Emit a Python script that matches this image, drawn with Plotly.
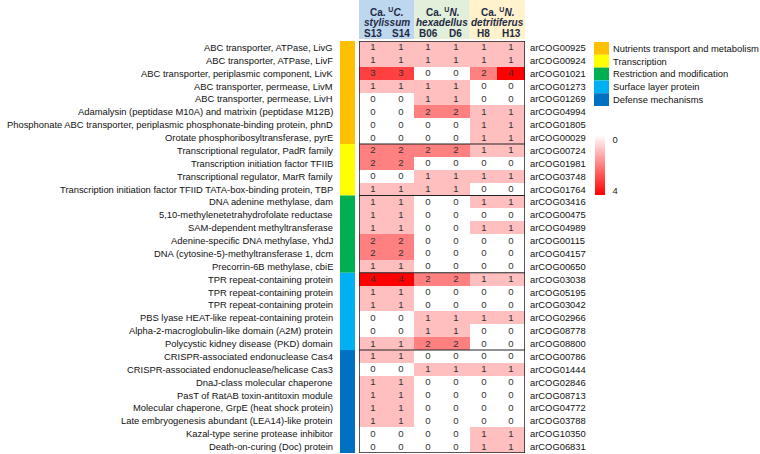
import plotly.graph_objects as go

W, H = 760, 454

genomes = ["S13", "S14", "B06", "D6", "H8", "H13"]
species_line1 = ["Ca. <sup>U</sup><i>C.</i>", "Ca. <sup>U</sup><i>N.</i>", "Ca. <sup>U</sup><i>N.</i>"]
species_line2 = ["stylissum", "hexadellus", "detritiferus"]
species_colors = ["#BDD7EE", "#E2EFDA", "#FFF2CC"]

functions = [
    "ABC transporter, ATPase, LivG",
    "ABC transporter, ATPase, LivF",
    "ABC transporter, periplasmic component, LivK",
    "ABC transporter, permease, LivM",
    "ABC transporter, permease, LivH",
    "Adamalysin (peptidase M10A) and matrixin (peptidase M12B)",
    "Phosphonate ABC transporter, periplasmic phosphonate-binding protein, phnD",
    "Orotate phosphoribosyltransferase, pyrE",
    "Transcriptional regulator, PadR family",
    "Transcription initiation factor TFIIB",
    "Transcriptional regulator, MarR family",
    "Transcription initiation factor TFIID TATA-box-binding protein, TBP",
    "DNA adenine methylase, dam",
    "5,10-methylenetetrahydrofolate reductase",
    "SAM-dependent methyltransferase",
    "Adenine-specific DNA methylase, YhdJ",
    "DNA (cytosine-5)-methyltransferase 1, dcm",
    "Precorrin-6B methylase, cbiE",
    "TPR repeat-containing protein",
    "TPR repeat-containing protein",
    "TPR repeat-containing protein",
    "PBS lyase HEAT-like repeat-containing protein",
    "Alpha-2-macroglobulin-like domain (A2M) protein",
    "Polycystic kidney disease (PKD) domain",
    "CRISPR-associated endonuclease Cas4",
    "CRISPR-associated endonuclease/helicase Cas3",
    "DnaJ-class molecular chaperone",
    "PasT of RatAB toxin-antitoxin module",
    "Molecular chaperone, GrpE (heat shock protein)",
    "Late embryogenesis abundant (LEA14)-like protein",
    "Kazal-type serine protease inhibitor",
    "Death-on-curing (Doc) protein",
]

arcogs = [
    "arCOG00925", "arCOG00924", "arCOG01021", "arCOG01273", "arCOG01269",
    "arCOG04994", "arCOG01805", "arCOG00029", "arCOG00724", "arCOG01981",
    "arCOG03748", "arCOG01764", "arCOG03416", "arCOG00475", "arCOG04989",
    "arCOG00115", "arCOG04157", "arCOG00650", "arCOG03038", "arCOG05195",
    "arCOG03042", "arCOG02966", "arCOG08778", "arCOG08800", "arCOG00786",
    "arCOG01444", "arCOG02846", "arCOG08713", "arCOG04772", "arCOG03788",
    "arCOG10350", "arCOG06831",
]

counts = [
    [1, 1, 1, 1, 1, 1],
    [1, 1, 1, 1, 1, 1],
    [3, 3, 0, 0, 2, 4],
    [1, 1, 1, 1, 0, 0],
    [0, 0, 1, 1, 0, 0],
    [0, 0, 2, 2, 1, 1],
    [0, 0, 0, 0, 1, 1],
    [0, 0, 0, 0, 1, 1],
    [2, 2, 2, 2, 1, 1],
    [2, 2, 0, 0, 0, 0],
    [0, 0, 1, 1, 1, 1],
    [1, 1, 1, 1, 0, 0],
    [1, 1, 0, 0, 1, 1],
    [1, 1, 0, 0, 0, 0],
    [1, 1, 0, 0, 1, 1],
    [2, 2, 0, 0, 0, 0],
    [2, 2, 0, 0, 0, 0],
    [1, 1, 0, 0, 0, 0],
    [4, 4, 2, 2, 1, 1],
    [1, 1, 0, 0, 0, 0],
    [1, 1, 0, 0, 0, 0],
    [0, 0, 1, 1, 1, 1],
    [0, 0, 1, 1, 0, 0],
    [1, 1, 2, 2, 0, 0],
    [1, 1, 0, 0, 0, 0],
    [0, 0, 1, 1, 1, 1],
    [1, 1, 0, 0, 0, 0],
    [1, 1, 0, 0, 0, 0],
    [1, 1, 0, 0, 0, 0],
    [1, 1, 0, 0, 0, 0],
    [0, 0, 0, 0, 1, 1],
    [0, 0, 0, 0, 1, 1],
]

categories = ["Nutrients transport and metabolism", "Transcription",
              "Restriction and modification", "Surface layer protein",
              "Defense mechanisms"]
category_sizes = [8, 4, 6, 6, 8]
category_colors = ["#FFC000", "#FFFF00", "#00B050", "#00B0F0", "#0070C0"]

# ---- layout helpers (pixel -> paper)
def px(x):
    return x / W

def py(y):
    return 1 - y / H

hm_left, hm_right, hm_top, hm_bot = 359, 525, 41, 453
nrow, ncol = len(functions), len(genomes)
font = "Liberation Sans, Arial"
LBL = 9.4

fig = go.Figure()

neg = [[-v for v in row] for row in counts]
txt = [[str(v) for v in row] for row in counts]

fig.add_trace(go.Heatmap(
    z=neg, text=txt, texttemplate="%{text}",
    textfont=dict(family=font, size=9.6, color="#333333"),
    x=list(range(ncol)), y=list(range(nrow)),
    zmin=-4, zmax=0,
    colorscale=[[0, "#FF0000"], [1, "#FFFFFF"]],
    xgap=0, ygap=0, hoverinfo="skip",
    colorbar=dict(
        x=px(595), xanchor="left", y=py(135), yanchor="top",
        len=60, lenmode="pixels", thickness=10, thicknessmode="pixels",
        outlinewidth=0, ticks="outside", ticklen=6, tickcolor="rgba(0,0,0,0)",
        tickvals=[-0.3, -3.7], ticktext=["0", "4"],
        tickfont=dict(family=font, size=LBL, color="#222"),
        xpad=0, ypad=0,
    ),
))

fig.update_xaxes(domain=[px(hm_left), px(hm_right)], range=[-0.5, ncol - 0.5],
                 showticklabels=False, showgrid=False, zeroline=False, ticks="")
fig.update_yaxes(domain=[py(hm_bot), py(hm_top)], range=[nrow - 0.5, -0.5],
                 showticklabels=False, showgrid=False, zeroline=False, ticks="")

shapes = []
annotations = []

# row labels
for i, (fn, ac) in enumerate(zip(functions, arcogs)):
    annotations.append(dict(x=px(335), y=i, xref="paper", yref="y", text=fn,
                            showarrow=False, xanchor="right", yanchor="middle",
                            font=dict(family=font, size=LBL, color="#111")))
    annotations.append(dict(x=px(528), y=i, xref="paper", yref="y", text=ac,
                            showarrow=False, xanchor="left", yanchor="middle",
                            font=dict(family=font, size=LBL, color="#111")))

# category bars + group separators
start = 0
for k, (sz, col) in enumerate(zip(category_sizes, category_colors)):
    shapes.append(dict(type="rect", xref="paper", yref="y", x0=px(340), x1=px(355),
                       y0=start - 0.5, y1=start + sz - 0.5, fillcolor=col,
                       line=dict(width=0), layer="above"))
    if k > 0:
        shapes.append(dict(type="line", xref="x", yref="y", x0=-0.5, x1=ncol - 0.5,
                           y0=start - 0.5, y1=start - 0.5,
                           line=dict(color="#222", width=1.2), layer="above"))
    start += sz

# heatmap border
shapes.append(dict(type="rect", xref="x", yref="y", x0=-0.5, x1=ncol - 0.5,
                   y0=-0.5, y1=nrow - 0.5, line=dict(color="#222", width=1.5),
                   layer="above"))

# header boxes
for s in range(3):
    shapes.append(dict(type="rect", xref="x", yref="paper", x0=2 * s - 0.5, x1=2 * s + 1.5,
                       y0=py(39), y1=py(0), fillcolor=species_colors[s],
                       line=dict(width=0), layer="below"))
    annotations.append(dict(x=2 * s + 0.5, y=py(12), xref="x", yref="paper",
                            text="<b>" + species_line1[s] + "</b>", showarrow=False,
                            xanchor="center", yanchor="middle",
                            font=dict(family=font, size=10, color="#1F2A44")))
    annotations.append(dict(x=2 * s + 0.5, y=py(22), xref="x", yref="paper",
                            text="<b><i>" + species_line2[s] + "</i></b>", showarrow=False,
                            xanchor="center", yanchor="middle",
                            font=dict(family=font, size=10, color="#1F2A44")))
for j, g in enumerate(genomes):
    annotations.append(dict(x=j, y=py(33), xref="x", yref="paper",
                            text="<b>" + g + "</b>", showarrow=False,
                            xanchor="center", yanchor="middle",
                            font=dict(family=font, size=10, color="#1F2A44")))

# category legend
ly = 42
sw_h = 12.8
for k, (name, col) in enumerate(zip(categories, category_colors)):
    y0 = ly + k * sw_h
    shapes.append(dict(type="rect", xref="paper", yref="paper", x0=px(594), x1=px(609),
                       y0=py(y0 + sw_h), y1=py(y0), fillcolor=col, line=dict(width=0)))
    annotations.append(dict(x=px(611), y=py(y0 + sw_h / 2), xref="paper", yref="paper",
                            text=name, showarrow=False, xanchor="left", yanchor="middle",
                            font=dict(family=font, size=LBL, color="#111")))

fig.update_layout(
    width=W, height=H, margin=dict(l=0, r=0, t=0, b=0),
    paper_bgcolor="white", plot_bgcolor="white",
    shapes=shapes, annotations=annotations, showlegend=False,
)

fig.write_html("out.html", config={"displayModeBar": False},
               post_script="document.body.style.margin='0';document.body.style.overflow='hidden';")
